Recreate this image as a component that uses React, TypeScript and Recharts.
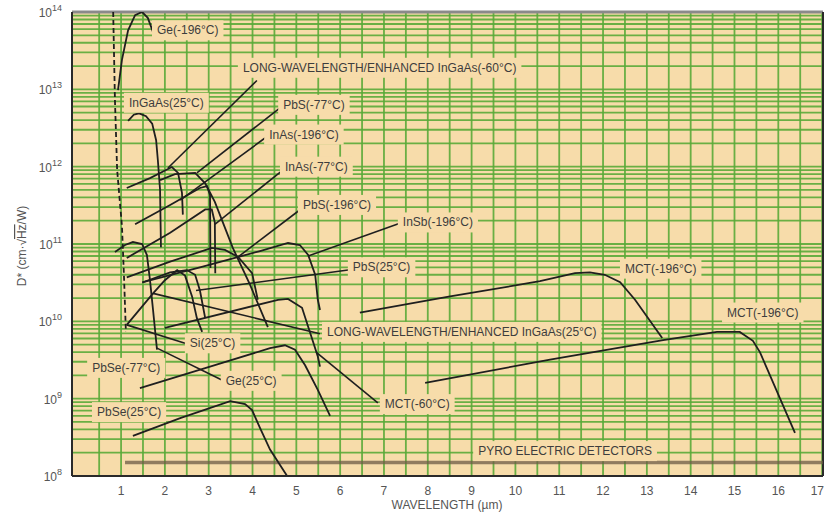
import { LineChart, Line, XAxis, YAxis, CartesianGrid, ReferenceDot, ReferenceLine } from "recharts"

type Pt = { x: number; y: number }

// wavelength (µm) vs D* (cm·√Hz/W)
const geN196: Pt[] = [
  { x: 0.93, y: 9.8e12 }, { x: 1.02, y: 2.4e13 }, { x: 1.16, y: 5.8e13 }, { x: 1.32, y: 9.1e13 },
  { x: 1.48, y: 1e14 }, { x: 1.61, y: 8.4e13 }, { x: 1.73, y: 5.5e13 },
]
const ingaas25: Pt[] = [
  { x: 1.16, y: 3.9e12 }, { x: 1.29, y: 4.7e12 }, { x: 1.41, y: 4.9e12 }, { x: 1.57, y: 4.5e12 },
  { x: 1.71, y: 3.6e12 }, { x: 1.8, y: 2.2e12 }, { x: 1.84, y: 1.2e12 }, { x: 1.89, y: 5.0e11 },
  { x: 1.91, y: 9.1e10 },
]
const si25: Pt[] = [
  { x: 0.82, y: 1e14 }, { x: 0.86, y: 7.3e12 }, { x: 0.91, y: 9.1e11 }, { x: 1.02, y: 1.7e11 },
  { x: 1.07, y: 3.4e10 }, { x: 1.11, y: 7.3e9 },
]
const ingaasLwN60: Pt[] = [
  { x: 1.13, y: 5.3e11 }, { x: 1.66, y: 7.1e11 }, { x: 2.16, y: 9.9e11 }, { x: 2.3, y: 8.3e11 },
  { x: 2.39, y: 4.6e11 }, { x: 2.41, y: 2.4e11 },
]
const pbsN77: Pt[] = [
  { x: 1.89, y: 6.7e11 }, { x: 2.23, y: 8.0e11 }, { x: 2.69, y: 8.3e11 }, { x: 2.92, y: 6.1e11 },
  { x: 3.14, y: 3.5e11 }, { x: 3.55, y: 8.9e10 }, { x: 3.94, y: 3.0e10 }, { x: 4.35, y: 8.4e9 },
]
const inasN196: Pt[] = [
  { x: 1.32, y: 1.8e11 }, { x: 2.12, y: 3.2e11 }, { x: 2.8, y: 5.3e11 }, { x: 2.96, y: 5.6e11 },
  { x: 3.03, y: 4.3e11 }, { x: 3.04, y: 4.9e10 },
]
const inasN77: Pt[] = [
  { x: 1.13, y: 6.6e10 }, { x: 2.12, y: 1.4e11 }, { x: 2.92, y: 2.8e11 }, { x: 3.07, y: 2.8e11 },
  { x: 3.14, y: 1.9e11 }, { x: 3.15, y: 4.2e10 },
]
const pbsN196: Pt[] = [
  { x: 1.13, y: 3.7e10 }, { x: 2.12, y: 5.9e10 }, { x: 3.07, y: 8.9e10 }, { x: 3.37, y: 8.4e10 },
  { x: 3.67, y: 6.8e10 }, { x: 3.99, y: 4.2e10 }, { x: 4.12, y: 1.9e10 },
]
const pbs25: Pt[] = [
  { x: 1.5, y: 3.2e10 }, { x: 2.12, y: 4.3e10 }, { x: 2.5, y: 4.6e10 }, { x: 2.69, y: 4.0e10 },
  { x: 2.8, y: 2.5e10 }, { x: 2.92, y: 1.1e10 },
]
const ingaasLw25: Pt[] = [
  { x: 1.13, y: 9.0e9 }, { x: 1.73, y: 2.3e10 }, { x: 2.0, y: 3.4e10 }, { x: 2.28, y: 4.6e10 },
  { x: 2.46, y: 3.9e10 }, { x: 2.62, y: 2.1e10 }, { x: 2.73, y: 1.1e10 }, { x: 2.85, y: 7.3e9 },
]
const insbN196: Pt[] = [
  { x: 1.48, y: 3.2e10 }, { x: 2.8, y: 5.0e10 }, { x: 4.17, y: 8.1e10 }, { x: 4.81, y: 1.03e11 },
  { x: 5.08, y: 9.7e10 }, { x: 5.27, y: 7.2e10 }, { x: 5.43, y: 4.0e10 }, { x: 5.49, y: 1.9e10 },
  { x: 5.54, y: 1.4e10 },
]
const ge25: Pt[] = [
  { x: 0.86, y: 7.9e10 }, { x: 1.09, y: 9.7e10 }, { x: 1.27, y: 1.06e11 }, { x: 1.48, y: 1.0e11 },
  { x: 1.59, y: 7.2e10 }, { x: 1.66, y: 3.4e10 }, { x: 1.73, y: 1.4e10 }, { x: 1.82, y: 4.3e9 },
]
const mctN60: Pt[] = [
  { x: 2.0, y: 8.2e9 }, { x: 4.58, y: 1.9e10 }, { x: 4.81, y: 1.95e10 }, { x: 5.13, y: 1.5e10 },
  { x: 5.49, y: 3.5e9 }, { x: 5.54, y: 2.6e9 },
]
const pbseN77: Pt[] = [
  { x: 1.43, y: 1.37e9 }, { x: 3.03, y: 2.6e9 }, { x: 4.4, y: 4.5e9 }, { x: 4.74, y: 4.9e9 },
  { x: 4.97, y: 4.3e9 }, { x: 5.2, y: 2.7e9 }, { x: 5.49, y: 1.3e9 }, { x: 5.77, y: 6.0e8 },
]
const pbse25: Pt[] = [
  { x: 1.27, y: 3.3e8 }, { x: 2.35, y: 5.6e8 }, { x: 3.49, y: 9.3e8 }, { x: 3.83, y: 8.5e8 },
  { x: 3.99, y: 7.1e8 }, { x: 4.17, y: 4.2e8 }, { x: 4.4, y: 2.2e8 }, { x: 4.79, y: 1.0e8 },
]
const mctN196a: Pt[] = [
  { x: 6.45, y: 1.3e10 }, { x: 8.51, y: 2.1e10 }, { x: 10.56, y: 3.3e10 }, { x: 11.36, y: 4.2e10 },
  { x: 11.7, y: 4.3e10 }, { x: 12.04, y: 4.0e10 }, { x: 12.39, y: 3.2e10 }, { x: 12.73, y: 1.9e10 },
  { x: 13.35, y: 6.1e9 },
]
const mctN196b: Pt[] = [
  { x: 7.94, y: 1.6e9 }, { x: 10.79, y: 3.2e9 }, { x: 13.37, y: 5.7e9 }, { x: 14.6, y: 7.3e9 },
  { x: 15.12, y: 7.3e9 }, { x: 15.42, y: 5.6e9 }, { x: 15.58, y: 4.0e9 }, { x: 16.38, y: 3.6e8 },
]
const pyro: Pt[] = [{ x: 1.09, y: 1.5e8 }, { x: 17.02, y: 1.5e8 }]

// leader lines from the labels to their curves
const leaders: Pt[][] = [
  [{ x: 4.1, y: 1.3e13 }, { x: 2.07, y: 9.6e11 }],
  [{ x: 4.65, y: 5.9e12 }, { x: 2.73, y: 8.3e11 }],
  [{ x: 4.31, y: 2.4e12 }, { x: 2.35, y: 3.7e11 }],
  [{ x: 4.67, y: 8.8e11 }, { x: 3.14, y: 1.8e11 }],
  [{ x: 5.13, y: 2.9e11 }, { x: 3.67, y: 6.8e10 }],
  [{ x: 7.41, y: 1.9e11 }, { x: 5.27, y: 7.0e10 }],
  [{ x: 6.18, y: 4.6e10 }, { x: 2.71, y: 2.5e10 }],
  [{ x: 5.54, y: 6.9e9 }, { x: 1.73, y: 2.3e10 }],
  [{ x: 1.13, y: 9.0e9 }, { x: 2.46, y: 5.2e9 }],
  [{ x: 1.82, y: 4.5e9 }, { x: 3.3, y: 1.74e9 }],
  [{ x: 5.45, y: 4.0e9 }, { x: 6.86, y: 8.8e8 }],
]

const labelTexts = [
  "Ge(-196°C)", "LONG-WAVELENGTH/ENHANCED InGaAs(-60°C)", "InGaAs(25°C)", "PbS(-77°C)",
  "InAs(-196°C)", "InAs(-77°C)", "PbS(-196°C)", "InSb(-196°C)", "PbS(25°C)", "MCT(-196°C)",
  "LONG-WAVELENGTH/ENHANCED InGaAs(25°C)", "MCT(-196°C)", "Si(25°C)", "PbSe(-77°C)", "Ge(25°C)",
  "MCT(-60°C)", "PbSe(25°C)", "PYRO ELECTRIC DETECTORS",
]
// left edge of each label's text
const labelAt: Pt[] = [
  { x: 1.82, y: 5.8e13 }, { x: 3.78, y: 1.9e13 }, { x: 1.18, y: 6.7e12 }, { x: 4.7, y: 6.3e12 },
  { x: 4.38, y: 2.6e12 }, { x: 4.74, y: 1.0e12 }, { x: 5.15, y: 3.2e11 }, { x: 7.43, y: 1.9e11 },
  { x: 6.29, y: 5.0e10 }, { x: 12.5, y: 4.8e10 }, { x: 5.7, y: 7.3e9 }, { x: 14.83, y: 1.3e10 },
  { x: 2.57, y: 5.2e9 }, { x: 0.34, y: 2.5e9 }, { x: 3.39, y: 1.7e9 }, { x: 7.02, y: 8.5e8 },
  { x: 0.45, y: 6.7e8 }, { x: 9.15, y: 2.1e8 },
]

const xTicks = [
  0.5, 1, 1.5, 2, 2.5, 3, 3.5, 4, 4.5, 5, 5.5, 6, 6.5, 7, 7.5, 8, 8.5,
  9, 9.5, 10, 10.5, 11, 11.5, 12, 12.5, 13, 13.5, 14, 14.5, 15, 15.5, 16, 16.5, 17,
]
const decades = [8, 9, 10, 11, 12, 13]
const mults = [1, 2, 3, 4, 5, 6, 7, 8, 9]
const yTicks = [...decades.flatMap((d) => mults.map((m) => m * 10 ** d)), 1e14]

const curves: { key: string; data: Pt[]; dash?: string }[] = [
  { key: "geN196", data: geN196 },
  { key: "ingaas25", data: ingaas25 },
  { key: "si25", data: si25, dash: "5 3" },
  { key: "ingaasLwN60", data: ingaasLwN60 },
  { key: "pbsN77", data: pbsN77 },
  { key: "inasN196", data: inasN196 },
  { key: "inasN77", data: inasN77 },
  { key: "pbsN196", data: pbsN196 },
  { key: "pbs25", data: pbs25 },
  { key: "ingaasLw25", data: ingaasLw25 },
  { key: "insbN196", data: insbN196 },
  { key: "ge25", data: ge25 },
  { key: "mctN60", data: mctN60 },
  { key: "pbseN77", data: pbseN77 },
  { key: "pbse25", data: pbse25 },
  { key: "mctN196a", data: mctN196a },
  { key: "mctN196b", data: mctN196b },
]

const bg = "#f7dcaa"
const green = "#5aaa38"
const ink = "#1f1f1f"
const textGray = "#3d3d3d"
const font = '"Liberation Sans", Arial, sans-serif'

const ctx = typeof document !== "undefined" ? document.createElement("canvas").getContext("2d") : null
const measure = (t: string) => {
  if (!ctx) return t.length * 6.6
  ctx.font = `12px ${font}`
  return ctx.measureText(t).width
}

const LabelBox = ({ cx, cy, text }: { cx?: number; cy?: number; text: string }) => {
  if (cx == null || cy == null) return <g />
  const w = measure(text)
  return (
    <g>
      <rect x={cx - 5} y={cy - 10} width={w + 10} height={20} fill={bg} />
      <text x={cx} y={cy + 4} fontSize={12} fontFamily={font} fill={textGray}>
        {text}
      </text>
    </g>
  )
}

const YTick = (props: any) => {
  const { y, payload } = props
  const v = payload.value
  const e = Math.round(Math.log10(v))
  if (Math.abs(v - 10 ** e) > v * 1e-6) return <g />
  return (
    <text x={62} y={y + 5} textAnchor="end" fill="#555" fontSize={12} fontFamily={font}>
      10
      <tspan fontSize={9} dy={-6}>
        {e}
      </tspan>
    </text>
  )
}

const XTick = (props: any) => {
  const { x, payload } = props
  if (!Number.isInteger(payload.value)) return <g />
  // the last label sits at the right edge, keep it inside the page
  const last = payload.value === 17
  return (
    <text
      x={last ? 824 : x}
      y={495}
      textAnchor={last ? "end" : "middle"}
      fill="#555"
      fontSize={12}
      fontFamily={font}
    >
      {payload.value}
    </text>
  )
}

const XTitle = () => (
  <text x={447} y={509} textAnchor="middle" fill="#555" fontSize={12} fontFamily={font}>
    WAVELENGTH (µm)
  </text>
)

const YTitle = () => (
  <text
    x={0}
    y={0}
    transform="translate(26,246) rotate(-90)"
    textAnchor="middle"
    fill="#555"
    fontSize={12}
    fontFamily={font}
  >
    D* (cm·√<tspan textDecoration="overline">Hz</tspan>/W)
  </text>
)

export default function App() {
  return (
    <div style={{ position: "absolute", left: 0, top: 0, background: "#fff" }}>
      <LineChart width={825} height={515} margin={{ top: 12, right: 2, left: 12, bottom: 9 }}>
        <CartesianGrid fill={bg} stroke={green} strokeWidth={1.8} strokeOpacity={0.9} />
        <XAxis
          type="number"
          dataKey="x"
          domain={[-0.12, 17.02]}
          ticks={xTicks}
          interval={0}
          allowDataOverflow
          tickLine={false}
          tick={<XTick />}
          height={30}
          axisLine={{ stroke: "#2a2a2a", strokeWidth: 2 }}
          label={<XTitle />}
        />
        <YAxis
          type="number"
          dataKey="y"
          scale="log"
          domain={[1e8, 1e14]}
          ticks={yTicks}
          interval={0}
          allowDataOverflow
          tickLine={false}
          tick={<YTick />}
          width={60}
          axisLine={{ stroke: "#2a2a2a", strokeWidth: 2 }}
          label={<YTitle />}
        />
        <ReferenceLine y={1e14} stroke="#8a8a8a" strokeWidth={3} />
        <ReferenceLine x={17.02} stroke="#2a2a2a" strokeWidth={2} />
        {labelTexts.map((t, i) => (
          <ReferenceDot
            key={"lab" + i}
            x={labelAt[i].x}
            y={labelAt[i].y}
            r={0}
            ifOverflow="visible"
            shape={(p: any) => <LabelBox cx={p.cx} cy={p.cy} text={t} />}
          />
        ))}
        <Line
          data={pyro}
          dataKey="y"
          stroke="#6e5c45"
          strokeOpacity={0.75}
          strokeWidth={3.5}
          dot={false}
          activeDot={false}
          isAnimationActive={false}
        />
        {leaders.map((seg, i) => (
          <Line
            key={"ld" + i}
            data={seg}
            dataKey="y"
            stroke={ink}
            strokeWidth={1.6}
            dot={false}
            activeDot={false}
            isAnimationActive={false}
          />
        ))}
        {curves.map((c) => (
          <Line
            key={c.key}
            data={c.data}
            dataKey="y"
            type="linear"
            stroke={ink}
            strokeWidth={1.8}
            strokeDasharray={c.dash}
            dot={false}
            activeDot={false}
            isAnimationActive={false}
          />
        ))}
      </LineChart>
    </div>
  )
}
